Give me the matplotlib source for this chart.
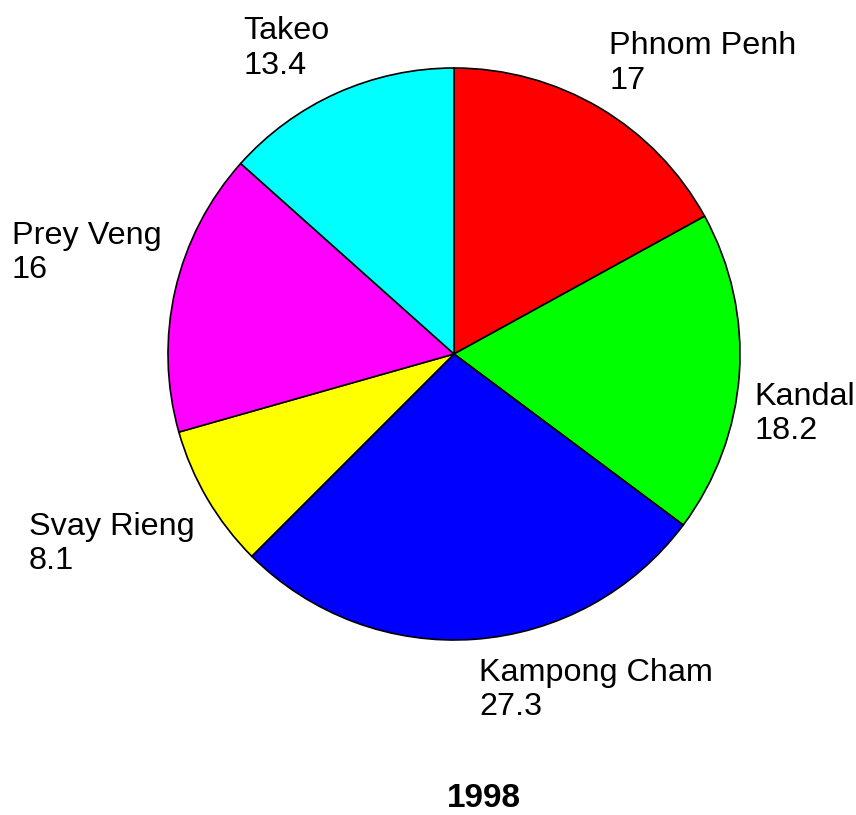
import numpy as np
import matplotlib.pyplot as plt
from matplotlib.transforms import offset_copy

plt.rcParams['font.family'] = ['Liberation Sans', 'DejaVu Sans']

provinces = ["Phnom Penh", "Kandal", "Kampong Cham", "Svay Rieng", "Prey Veng", "Takeo"]
shares = [17, 18.2, 27.3, 8.1, 16, 13.4]
colors = ["#ff0000", "#00ff00", "#0000ff", "#ffff00", "#ff00ff", "#00ffff"]
labels = [f"{p}\n{v:g}" for p, v in zip(provinces, shares)]
year = "1998"

W, H = 856, 815
fig = plt.figure(figsize=(W / 100, H / 100), dpi=100)

# pie centre (454, 354) px, radius 286 px
cx, cy, r = 454, 354, 286
ax = fig.add_axes([(cx - r) / W, (H - cy - r) / H, 2 * r / W, 2 * r / H])

wedges, texts = ax.pie(
    shares, labels=labels, colors=colors, startangle=90, counterclock=False,
    labeldistance=1.04,
    wedgeprops=dict(edgecolor="black", linewidth=1.2),
    textprops=dict(fontsize=23.3),
)
ax.set_xlim(-1, 1)
ax.set_ylim(-1, 1)

# anchor labels like the original: corner nearest the pie, small pad outward
for w, t in zip(wedges, texts):
    ang = np.deg2rad((w.theta1 + w.theta2) / 2)
    right = np.cos(ang) > 0
    upper = np.sin(ang) > 0
    t.set_ha("left" if right else "right")
    t.set_va("bottom" if upper else "top")
    t.set_multialignment("left")
    dx = 4 if right else -3
    dy = 2 if upper else -7
    t.set_transform(offset_copy(ax.transData, fig=fig, x=dx, y=dy, units="dots"))

fig.text(484 / W, 1 - 807 / H, year, ha="center", va="baseline",
         fontsize=24, fontweight="bold")

fig.savefig("out.png", dpi=100)
